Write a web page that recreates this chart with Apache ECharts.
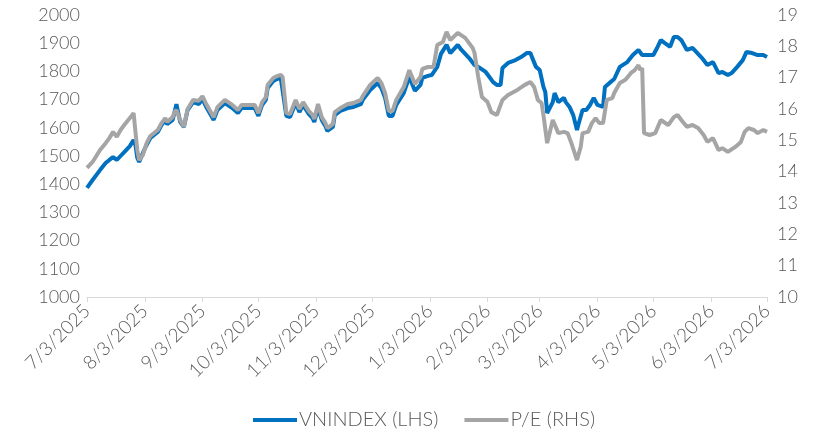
<!DOCTYPE html>
<html><head><meta charset="utf-8">
<script src="https://cdn.jsdelivr.net/npm/echarts@6/dist/echarts.min.js"></script>
<style>html,body{margin:0;padding:0;background:#fff}#c{width:817px;height:429px}</style>
</head><body><div id="c"></div>
<script>
var vnDates = ['2025-07-03','2025-07-06','2025-07-10','2025-07-13','2025-07-15','2025-07-17','2025-07-19','2025-07-21','2025-07-23','2025-07-26','2025-07-28','2025-07-29','2025-07-30','2025-07-31','2025-08-01','2025-08-02','2025-08-04','2025-08-06','2025-08-10','2025-08-12','2025-08-14','2025-08-15','2025-08-18','2025-08-19','2025-08-20','2025-08-22','2025-08-24','2025-08-26','2025-08-29','2025-09-01','2025-09-03','2025-09-05','2025-09-09','2025-09-11','2025-09-15','2025-09-19','2025-09-22','2025-09-24','2025-09-27','2025-10-01','2025-10-03','2025-10-05','2025-10-07','2025-10-08','2025-10-11','2025-10-13','2025-10-15','2025-10-16','2025-10-18','2025-10-20','2025-10-23','2025-10-25','2025-10-27','2025-10-30','2025-11-01','2025-11-02','2025-11-04','2025-11-06','2025-11-08','2025-11-09','2025-11-12','2025-11-13','2025-11-16','2025-11-20','2025-11-23','2025-11-27','2025-11-28','2025-12-02','2025-12-06','2025-12-08','2025-12-10','2025-12-12','2025-12-14','2025-12-16','2025-12-20','2025-12-23','2025-12-26','2025-12-29','2025-12-30','2026-01-02','2026-01-04','2026-01-07','2026-01-09','2026-01-10','2026-01-12','2026-01-14','2026-01-18','2026-01-20','2026-01-24','2026-01-27','2026-01-30','2026-02-02','2026-02-04','2026-02-06','2026-02-08','2026-02-10','2026-02-11','2026-02-14','2026-02-18','2026-02-21','2026-02-24','2026-02-26','2026-02-27','2026-03-01','2026-03-03','2026-03-05','2026-03-06','2026-03-07','2026-03-10','2026-03-11','2026-03-13','2026-03-16','2026-03-17','2026-03-19','2026-03-21','2026-03-23','2026-03-24','2026-03-26','2026-03-28','2026-03-30','2026-04-01','2026-04-03','2026-04-04','2026-04-06','2026-04-07','2026-04-10','2026-04-12','2026-04-15','2026-04-19','2026-04-22','2026-04-23','2026-04-25','2026-04-27','2026-04-30','2026-05-03','2026-05-05','2026-05-07','2026-05-09','2026-05-12','2026-05-14','2026-05-16','2026-05-18','2026-05-21','2026-05-24','2026-05-26','2026-05-29','2026-06-01','2026-06-04','2026-06-07','2026-06-09','2026-06-12','2026-06-14','2026-06-17','2026-06-20','2026-06-22','2026-06-25','2026-06-28','2026-06-29','2026-07-01','2026-07-03'];
var vnIndex = [1387,1415,1450,1475,1486,1496,1486,1500,1514,1535,1557,1539,1493,1479,1486,1511,1539,1564,1585,1610,1628,1613,1628,1656,1684,1621,1603,1663,1691,1684,1702,1674,1628,1663,1688,1670,1652,1670,1670,1670,1642,1681,1699,1741,1766,1773,1777,1770,1642,1638,1688,1656,1681,1649,1635,1621,1670,1628,1606,1589,1603,1645,1660,1670,1674,1684,1699,1734,1759,1741,1706,1642,1642,1681,1723,1780,1731,1752,1777,1784,1787,1816,1862,1869,1894,1865,1894,1876,1848,1823,1812,1798,1780,1762,1752,1752,1812,1830,1840,1851,1865,1865,1848,1816,1805,1745,1727,1652,1691,1723,1691,1706,1691,1674,1645,1592,1617,1663,1663,1681,1706,1681,1674,1674,1745,1762,1773,1816,1833,1858,1858,1876,1858,1858,1858,1883,1911,1901,1887,1922,1922,1911,1876,1883,1869,1848,1823,1833,1794,1798,1787,1794,1816,1840,1869,1865,1858,1851,1858,1851];
var peDates = ['2025-07-03','2025-07-06','2025-07-10','2025-07-13','2025-07-15','2025-07-17','2025-07-19','2025-07-21','2025-07-23','2025-07-26','2025-07-28','2025-07-29','2025-07-30','2025-07-31','2025-08-01','2025-08-02','2025-08-04','2025-08-06','2025-08-10','2025-08-12','2025-08-14','2025-08-15','2025-08-18','2025-08-19','2025-08-20','2025-08-22','2025-08-24','2025-08-26','2025-08-29','2025-09-01','2025-09-03','2025-09-05','2025-09-09','2025-09-11','2025-09-15','2025-09-19','2025-09-22','2025-09-24','2025-09-27','2025-10-01','2025-10-03','2025-10-05','2025-10-07','2025-10-08','2025-10-11','2025-10-13','2025-10-15','2025-10-16','2025-10-18','2025-10-20','2025-10-23','2025-10-25','2025-10-27','2025-10-30','2025-11-01','2025-11-02','2025-11-04','2025-11-06','2025-11-08','2025-11-09','2025-11-12','2025-11-13','2025-11-16','2025-11-20','2025-11-23','2025-11-27','2025-11-28','2025-12-02','2025-12-06','2025-12-08','2025-12-10','2025-12-12','2025-12-14','2025-12-16','2025-12-20','2025-12-23','2025-12-26','2025-12-29','2025-12-30','2026-01-02','2026-01-05','2026-01-07','2026-01-10','2026-01-12','2026-01-14','2026-01-18','2026-01-22','2026-01-26','2026-01-27','2026-01-29','2026-01-31','2026-02-03','2026-02-05','2026-02-08','2026-02-11','2026-02-14','2026-02-19','2026-02-23','2026-02-26','2026-02-28','2026-03-02','2026-03-04','2026-03-05','2026-03-07','2026-03-10','2026-03-13','2026-03-16','2026-03-18','2026-03-20','2026-03-23','2026-03-25','2026-03-26','2026-03-29','2026-03-31','2026-04-02','2026-04-04','2026-04-06','2026-04-08','2026-04-11','2026-04-12','2026-04-15','2026-04-18','2026-04-21','2026-04-23','2026-04-25','2026-04-26','2026-04-27','2026-04-28','2026-05-01','2026-05-04','2026-05-07','2026-05-08','2026-05-11','2026-05-14','2026-05-16','2026-05-18','2026-05-21','2026-05-24','2026-05-27','2026-05-30','2026-06-01','2026-06-04','2026-06-07','2026-06-09','2026-06-12','2026-06-16','2026-06-19','2026-06-21','2026-06-23','2026-06-26','2026-06-28','2026-07-01','2026-07-03'];
var peRatio = [14.12,14.31,14.69,14.91,15.07,15.27,15.11,15.33,15.49,15.71,15.87,15.81,14.69,14.37,14.31,14.53,14.91,15.14,15.33,15.55,15.71,15.59,15.74,15.90,15.97,15.65,15.43,16.00,16.29,16.26,16.41,16.16,15.74,16.06,16.29,16.13,15.97,16.13,16.13,16.13,15.87,16.22,16.38,16.77,16.99,17.05,17.09,17.02,15.87,15.84,16.29,16.00,16.22,15.94,15.81,15.68,16.16,15.74,15.55,15.39,15.52,15.90,16.03,16.16,16.19,16.29,16.41,16.77,16.99,16.83,16.51,15.94,15.94,16.29,16.70,17.24,16.80,17.02,17.28,17.34,17.34,18.04,18.14,18.46,18.20,18.43,18.27,17.95,17.79,17.02,16.38,16.22,15.90,15.81,16.29,16.45,16.61,16.77,16.86,16.70,16.29,16.19,15.81,14.91,15.65,15.23,15.27,15.23,14.91,14.37,14.79,15.23,15.27,15.55,15.71,15.55,15.55,16.29,16.35,16.51,16.83,16.93,17.15,17.24,17.40,17.24,17.31,15.23,15.17,15.23,15.65,15.59,15.49,15.74,15.81,15.65,15.43,15.49,15.39,15.17,14.95,15.07,14.69,14.75,14.63,14.79,14.95,15.27,15.39,15.33,15.23,15.33,15.27];
var tickDates = ['2025-07-03','2025-08-03','2025-09-03','2025-10-03','2025-11-03','2025-12-03','2026-01-03','2026-02-03','2026-03-03','2026-04-03','2026-05-03','2026-06-03','2026-07-03'];
var seriesNames = ['VNINDEX (LHS)','P/E (RHS)'];

function ts(s){var p=s.split('-');return new Date(+p[0],+p[1]-1,+p[2]).getTime();}
function pairs(d,v){return d.map(function(x,i){return [ts(x),v[i]];});}
var FONT='Lato';
var chart = echarts.init(document.getElementById('c'));
chart.setOption({
  animation:false,
  grid:{left:87,right:50,top:15,bottom:132,containLabel:false},
  legend:{top:405,left:248,itemWidth:44,itemHeight:4,itemGap:26,icon:'rect',
    textStyle:{fontFamily:FONT,fontSize:20,fontWeight:300,color:'#595959',padding:[0,0,0,-3]},
    data:seriesNames},
  xAxis:{type:'value',min:ts(tickDates[0]),max:ts(tickDates[tickDates.length-1]),scale:true,
    axisLine:{lineStyle:{color:'#d9d9d9',width:1}},
    axisTick:{show:true,length:5,lineStyle:{color:'#d9d9d9'},customValues:tickDates.map(ts)},
    axisLabel:{rotate:45,margin:11,fontFamily:FONT,fontSize:19,fontWeight:300,color:'#595959',
      customValues:tickDates.map(ts),
      formatter:function(v){var d=new Date(v);return (d.getMonth()+1)+'/'+d.getDate()+'/'+d.getFullYear();}},
    splitLine:{show:false}},
  yAxis:[
    {type:'value',min:1000,max:2000,interval:100,axisLine:{show:false},axisTick:{show:false},splitLine:{show:false},
     axisLabel:{fontFamily:FONT,fontSize:18,fontWeight:300,color:'#595959',margin:7,formatter:function(v){return String(v);}}},
    {type:'value',min:10,max:19,interval:1,axisLine:{show:false},axisTick:{show:false},splitLine:{show:false},
     axisLabel:{fontFamily:FONT,fontSize:18,fontWeight:300,color:'#595959',margin:10,formatter:function(v){return String(v);}}}
  ],
  series:[
    {name:seriesNames[0],type:'line',yAxisIndex:0,data:pairs(vnDates,vnIndex),showSymbol:false,symbol:'none',
     lineStyle:{color:'#0070C0',width:4},itemStyle:{color:'#0070C0'},z:2},
    {name:seriesNames[1],type:'line',yAxisIndex:1,data:pairs(peDates,peRatio),showSymbol:false,symbol:'none',
     lineStyle:{color:'#A5A5A5',width:4},itemStyle:{color:'#A5A5A5'},z:3}
  ]
});
</script></body></html>
